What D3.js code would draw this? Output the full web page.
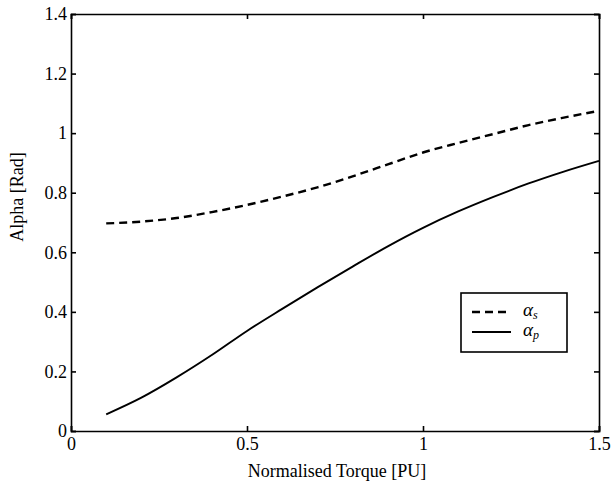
<!DOCTYPE html>
<html>
<head>
<meta charset="utf-8">
<script src="https://cdn.jsdelivr.net/npm/d3@7"></script>
<style>
  body { margin: 0; background: #fff; }
  svg text { font-family: "Liberation Serif", "Times New Roman", "DejaVu Serif", serif !important; fill: #000; }
</style>
</head>
<body>
<div id="chart"></div>
<script>
var svgWidth = 612;
var svgHeight = 485;

var margin = { top: 14, right: 13, bottom: 54, left: 71 };

const width = svgWidth - margin.left - margin.right;
const height = svgHeight - margin.top - margin.bottom;

const serif = "'Liberation Serif', 'Times New Roman', serif";

// values
const torque = [0.1, 0.2, 0.3, 0.4, 0.5, 0.6, 0.7, 0.8, 0.9, 1.0, 1.1, 1.2, 1.3, 1.4, 1.5];
const alphaS = [0.697, 0.703, 0.715, 0.735, 0.759, 0.787, 0.818, 0.855, 0.895, 0.935, 0.967, 0.997, 1.027, 1.052, 1.075];
const alphaP = [0.056, 0.112, 0.18, 0.255, 0.336, 0.41, 0.482, 0.552, 0.62, 0.682, 0.737, 0.786, 0.831, 0.871, 0.907];

const xTicks = [0, 0.5, 1, 1.5];
const yTicks = [0, 0.2, 0.4, 0.6, 0.8, 1, 1.2, 1.4];

const svg = d3.select("#chart")
  .append("svg")
  .attr("width", svgWidth)
  .attr("height", svgHeight)
  .attr("font-family", serif);

const chartGroup = svg.append("g")
  .attr("transform", `translate(${margin.left}, ${margin.top})`);

const x = d3.scaleLinear().domain([0, 1.5]).range([0, width]);
const y = d3.scaleLinear().domain([0, 1.4]).range([height, 0]);

// inward ticks on all four sides
const bottomAxis = d3.axisBottom(x).tickValues(xTicks).tickSize(-5).tickPadding(6).tickFormat(d3.format("~g"));
const leftAxis = d3.axisLeft(y).tickValues(yTicks).tickSize(-5).tickPadding(4).tickFormat(d3.format("~g"));
const topAxis = d3.axisTop(x).tickValues(xTicks).tickSize(-5).tickFormat("");
const rightAxis = d3.axisRight(y).tickValues(yTicks).tickSize(-5).tickFormat("");

function styleAxis(g) {
  g.attr("font-family", serif).attr("font-size", 18);
  g.select(".domain").attr("stroke", "#000").attr("stroke-width", 1.6);
  g.selectAll(".tick line").attr("stroke", "#000").attr("stroke-width", 1.6);
  g.selectAll(".tick text").attr("fill", "#000");
}

chartGroup.append("g").attr("transform", `translate(0, ${height})`).call(bottomAxis).call(styleAxis);
chartGroup.append("g").call(leftAxis).call(styleAxis);
chartGroup.append("g").call(topAxis).call(styleAxis);
chartGroup.append("g").attr("transform", `translate(${width}, 0)`).call(rightAxis).call(styleAxis);

const line = d3.line()
  .x((d, i) => x(torque[i]))
  .y(d => y(d))
  .curve(d3.curveMonotoneX);

chartGroup.append("path")
  .datum(alphaS)
  .attr("fill", "none")
  .attr("stroke", "#000")
  .attr("stroke-width", 2.4)
  .attr("stroke-dasharray", "8,5")
  .attr("d", line);

chartGroup.append("path")
  .datum(alphaP)
  .attr("fill", "none")
  .attr("stroke", "#000")
  .attr("stroke-width", 1.9)
  .attr("d", line);

// axis titles
svg.append("text")
  .attr("x", 337)
  .attr("y", 477)
  .attr("text-anchor", "middle")
  .attr("font-size", 18)
  .text("Normalised Torque [PU]");

svg.append("text")
  .attr("transform", "translate(23, 197) rotate(-90)")
  .attr("text-anchor", "middle")
  .attr("font-size", 18)
  .text("Alpha [Rad]");

// legend
const legend = svg.append("g").attr("transform", "translate(461, 293)");
legend.append("rect")
  .attr("width", 106)
  .attr("height", 59)
  .attr("fill", "#fff")
  .attr("stroke", "#000")
  .attr("stroke-width", 1.6);

const legendItems = [
  { sub: "s", dash: "8,5", w: 2.4, yy: 19 },
  { sub: "p", dash: null, w: 1.9, yy: 39 }
];

legendItems.forEach(function(item) {
  legend.append("line")
    .attr("x1", 11).attr("x2", 50)
    .attr("y1", item.yy).attr("y2", item.yy)
    .attr("stroke", "#000")
    .attr("stroke-width", item.w)
    .attr("stroke-dasharray", item.dash);
  const t = legend.append("text")
    .attr("x", 62)
    .attr("y", item.yy + 4)
    .attr("font-size", 19)
    .style("font-style", "italic");
  t.append("tspan").text("α");
  t.append("tspan")
    .attr("dy", 3)
    .attr("font-size", 12)
    .text(item.sub);
});
</script>
</body>
</html>
